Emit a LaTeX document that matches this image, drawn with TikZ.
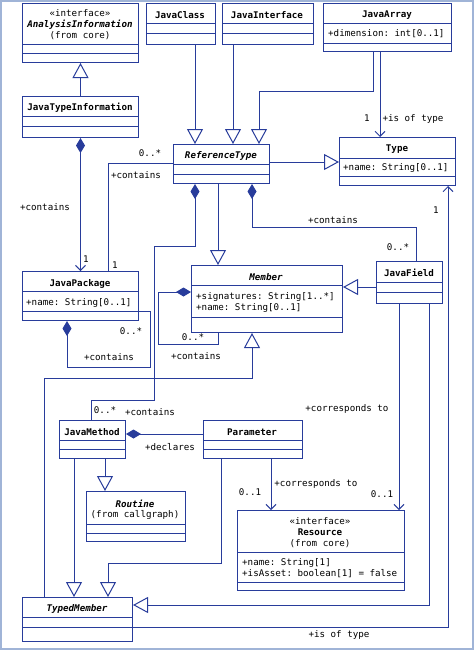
\documentclass[tikz,border=0pt]{standalone}
\usepackage{fontspec}
\setmonofont{DejaVu Sans Mono}
\usetikzlibrary{arrows.meta}
\definecolor{ln}{RGB}{40,60,155}
\definecolor{frm}{RGB}{160,180,215}
\tikzset{
  box/.style={draw=ln,fill=white,line width=1pt,anchor=north west,inner sep=0pt},
  boxline/.style={draw=ln,line width=1pt},
  t/.style={font=\fontsize{9.2}{10}\ttfamily,inner sep=0pt,text=black},
  tb/.style={t,font=\fontsize{9.2}{10}\ttfamily\bfseries},
  tbi/.style={t,font=\fontsize{9.2}{10}\ttfamily\bfseries\itshape},
  lab/.style={t},
  c/.style={draw=ln,line width=1pt},
  gen/.style={c,-{Triangle[open,length=15pt,width=16pt,fill=white]}},
  comp/.style={c,{Diamond[length=15pt,width=9pt]}-},
  compa/.style={c,{Diamond[length=15pt,width=9pt]}-{Straight Barb[length=5pt,width=10pt]}},
  asc/.style={c,-{Straight Barb[length=5pt,width=10pt]}},
}
\newcommand\ubox[7]{\node[box,minimum width=#4pt,minimum height=#5pt] (#1) at (#2,#3) {};
  \draw[boxline] (#2,#6)--++(#4,0) (#2,#7)--++(#4,0);}
\begin{document}
\begin{tikzpicture}[x=1pt,y=-1pt]
\useasboundingbox (0,0) rectangle (474,651);
\draw[frm,line width=1.5pt] (1,1) rectangle (473,649);
% boxes
\ubox{ai}{22}{3}{116}{59}{44}{53}
\ubox{jc}{146}{3}{69}{41}{23}{33}
\ubox{ji}{222}{3}{91}{41}{23}{33}
\ubox{ja}{323}{3}{128}{48}{23}{43}
\ubox{jti}{22}{96}{116}{41}{116}{126}
\ubox{rt}{173}{144}{96}{39}{164}{174}
\ubox{ty}{339}{137}{116}{48}{158}{176}
\ubox{me}{191}{265}{151}{67}{285}{317}
\ubox{jf}{376}{261}{66}{42}{282}{292}
\ubox{jp}{22}{271}{116}{49}{291}{311}
\ubox{jm}{59}{420}{66}{38}{440}{449}
\ubox{pa}{203}{420}{99}{38}{440}{449}
\ubox{ro}{86}{491}{99}{50}{524}{533}
\ubox{re}{237}{510}{167}{80}{552}{582}
\ubox{tm}{22}{597}{110}{44}{617}{627}
% box texts
\node[t] (ai1) at (80,13) {«interface»};
\node[tbi] (ai2) at (80,25) {AnalysisInformation};
\node[t] (ai3) at (80,36) {(from core)};
\node[tb] (jct) at (180,15) {JavaClass};
\node[tb] (jit) at (267,15) {JavaInterface};
\node[tb] (jat) at (387,15) {JavaArray};
\node[t,anchor=west] (jaa) at (328,34) {+dimension: int[0..1]};
\node[tb] (jtit) at (80,108) {JavaTypeInformation};
\node[tbi] (rtt) at (221,156) {ReferenceType};
\node[tb] (tyt) at (397,149) {Type};
\node[t,anchor=west] (tya) at (343,168) {+name: String[0..1]};
\node[tbi] (met) at (266,277) {Member};
\node[t,anchor=west] (mea) at (196,297) {+signatures: String[1..*]};
\node[t,anchor=west] (meb) at (196,308) {+name: String[0..1]};
\node[tb] (jft) at (409,273) {JavaField};
\node[tb] (jpt) at (80,284) {JavaPackage};
\node[t,anchor=west] (jpa) at (26,303) {+name: String[0..1]};
\node[tb] (jmt) at (92,432) {JavaMethod};
\node[tb] (pat) at (252,432) {Parameter};
\node[tbi] (rot) at (135,504) {Routine};
\node[t] (ro2) at (135,515) {(from callgraph)};
\node[t] (re1) at (320,521) {«interface»};
\node[tb] (re2) at (320,532) {Resource};
\node[t] (re3) at (320,544) {(from core)};
\node[t,anchor=west] (rea) at (242,563) {+name: String[1]};
\node[t,anchor=west] (reb) at (242,574) {+isAsset: boolean[1] = false};
\node[tbi] (tmt) at (77,609) {TypedMember};
% connectors
\draw[gen] (jti.north) -- (ai.south);
\draw[gen] ([xshift=49pt]jc.south west) -- ([xshift=22pt]rt.north west);
\draw[gen] ([xshift=11pt]ji.south west) -- ([xshift=60pt]rt.north west);
\draw[gen] ([xshift=50pt]ja.south west) -- (373,91) -- (259,91) -- ([xshift=86pt]rt.north west);
\draw[asc] ([xshift=57pt]ja.south west) -- ([xshift=41pt]ty.north west);
\draw[gen] ([yshift=-18pt]rt.north east) -- ([yshift=-25pt]ty.north west);
\draw[compa] (jti.south) -- (jp.north);
\draw[c] ([xshift=86pt]jp.north west) -- (108,163) -- ([yshift=-19pt]rt.north west);
\draw[comp] ([xshift=22pt]rt.south west) -- (195,246) -- (154,246) -- (154,400) -- (91,400) -- ([xshift=32pt]jm.north west);
\draw[gen] ([xshift=45pt]rt.south west) -- ([xshift=27pt]me.north west);
\draw[comp] ([xshift=79pt]rt.south west) -- (252,227) -- (416,227) -- ([xshift=40pt]jf.north west);
\draw[gen] ([yshift=-26pt]jf.north west) -- ([yshift=-22pt]me.north east);
\draw[comp] ([yshift=-27pt]me.north west) -- (158,292) -- (158,344) -- (218,344) -- ([xshift=27pt]me.south west);
\draw[comp] ([xshift=45pt]jp.south west) -- (67,367) -- (150,367) -- (150,311) -- ([yshift=-40pt]jp.north east);
\draw[gen] ([xshift=22pt]tm.north west) -- (44,378) -- (252,378) -- ([xshift=61pt]me.south west);
\draw[gen] ([xshift=15pt]jm.south west) -- ([xshift=52pt]tm.north west);
\draw[gen] ([xshift=46pt]jm.south west) -- ([xshift=19pt]ro.north west);
\draw[gen] ([xshift=18pt]pa.south west) -- (221,563) -- (108,563) -- ([xshift=86pt]tm.north west);
\draw[comp] ([yshift=-14pt]jm.north east) -- ([yshift=-14pt]pa.north west);
\draw[asc] ([xshift=68pt]pa.south west) -- ([xshift=34pt]re.north west);
\draw[asc] ([xshift=23pt]jf.south west) -- ([xshift=162pt]re.north west);
\draw[gen] ([xshift=53pt]jf.south west) -- (429,605) -- ([yshift=-8pt]tm.north east);
\draw[asc] ([yshift=-30pt]tm.north east) -- (448,627) -- ([xshift=109pt]ty.south west);
% labels
\node[lab] (l1) at (367,118) {1};
\node[lab] (l2) at (413,119) {+is of type};
\node[lab] (l3) at (45,207) {+contains};
\node[lab] (l4) at (86,259) {1};
\node[lab] (l5) at (150,153) {0..*};
\node[lab] (l6) at (136,175) {+contains};
\node[lab] (l7) at (115,265) {1};
\node[lab] (l8) at (333,220) {+contains};
\node[lab] (l9) at (398,247) {0..*};
\node[lab] (l10) at (436,210) {1};
\node[lab] (l11) at (131,331) {0..*};
\node[lab] (l12) at (109,357) {+contains};
\node[lab] (l13) at (193,337) {0..*};
\node[lab] (l14) at (196,356) {+contains};
\node[lab] (l15) at (105,410) {0..*};
\node[lab] (l16) at (150,412) {+contains};
\node[lab] (l17) at (347,409) {+corresponds to};
\node[lab] (l18) at (170,447) {+declares};
\node[lab] (l19) at (316,484) {+corresponds to};
\node[lab] (l20) at (250,492) {0..1};
\node[lab] (l21) at (382,494) {0..1};
\node[lab] (l22) at (339,635) {+is of type};
\end{tikzpicture}
\end{document}
